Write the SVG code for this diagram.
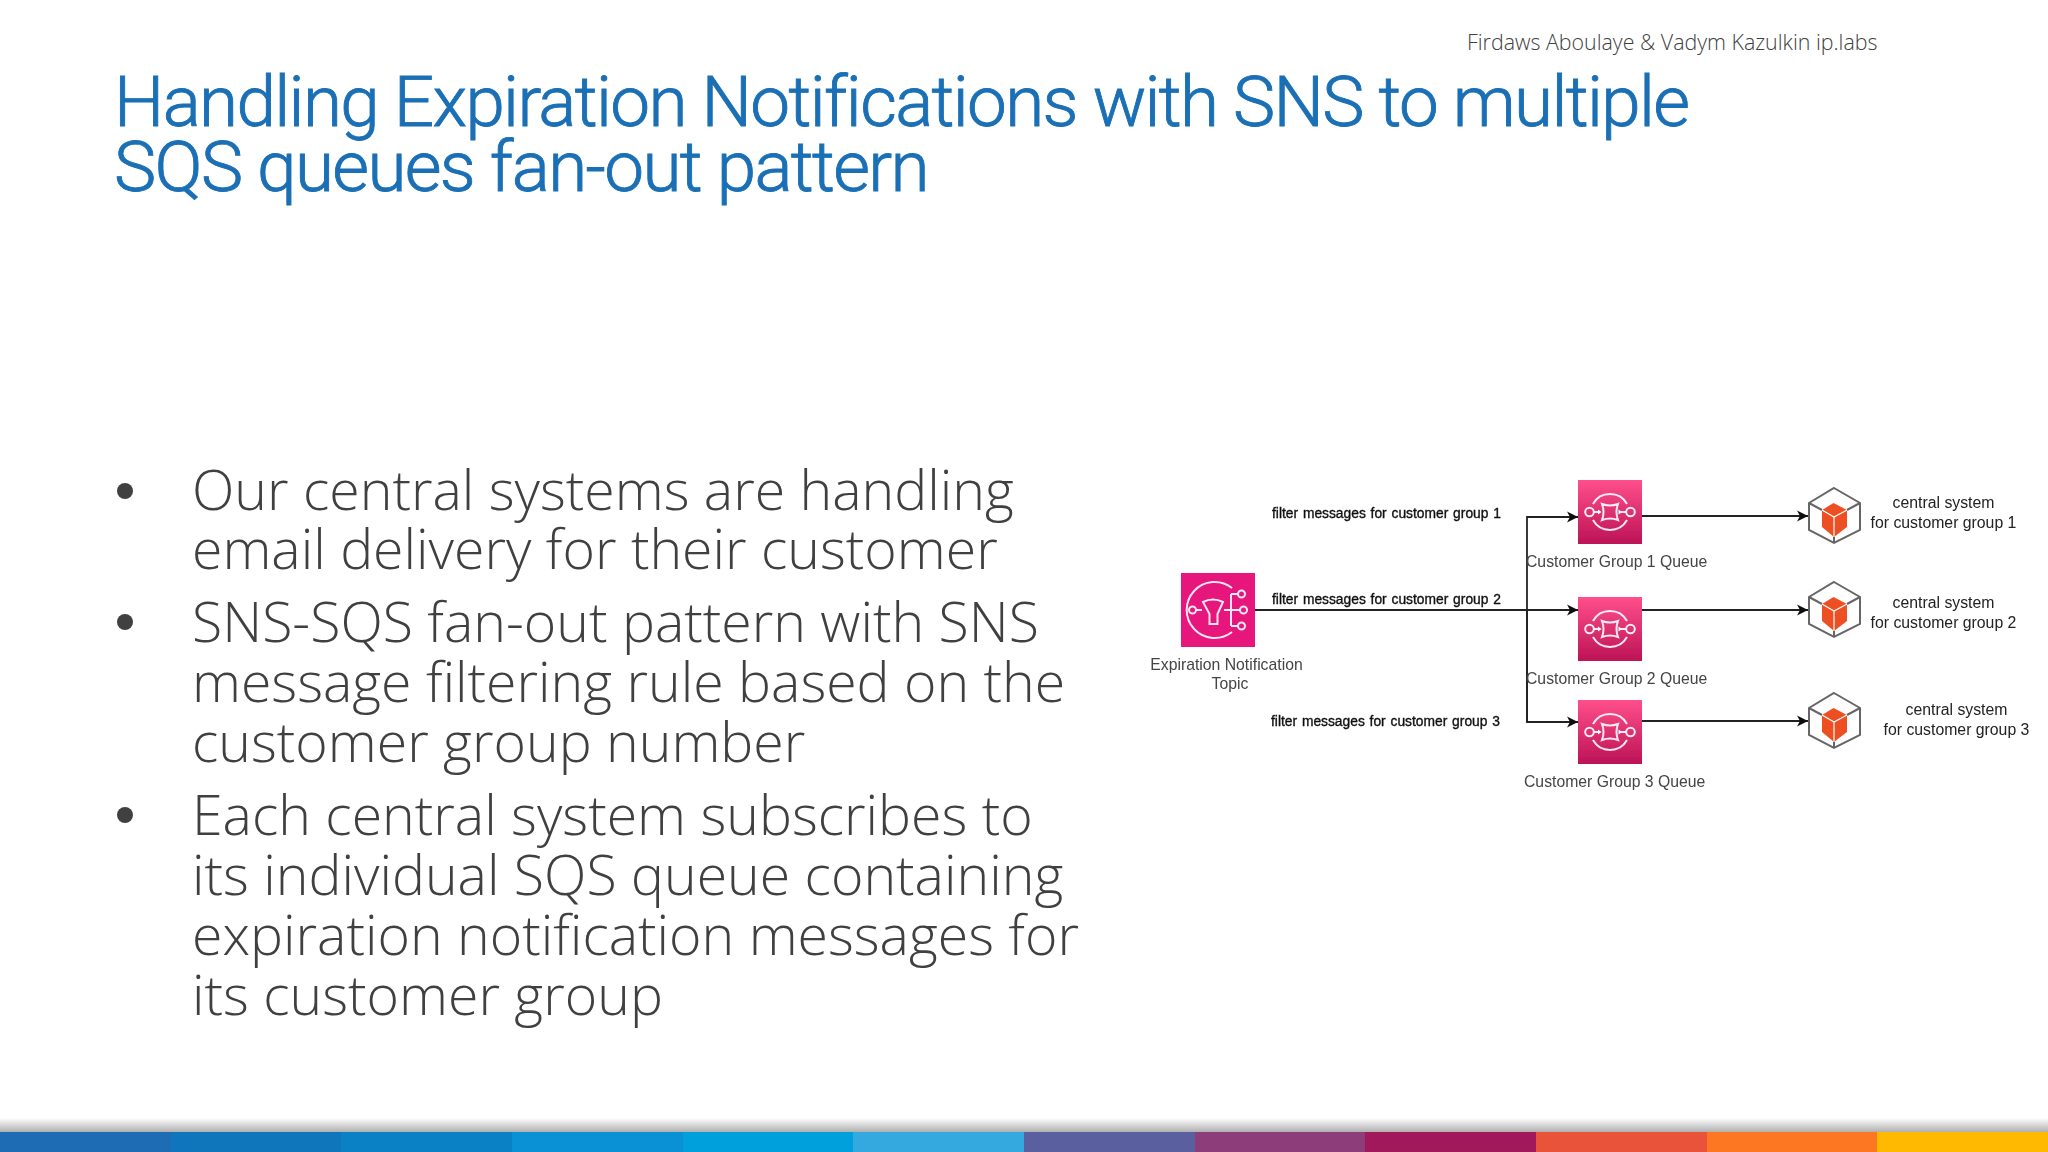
<svg xmlns="http://www.w3.org/2000/svg" width="2048" height="1152" viewBox="0 0 2048 1152">
<style>
.title{font-family:Roboto,"Liberation Sans",sans-serif;font-size:71px;font-weight:300;fill:#1a6fb5;stroke:#1a6fb5;stroke-width:.9px;letter-spacing:-1.64px}
.body{font-family:"Open Sans","Liberation Sans",sans-serif;font-weight:300;font-size:55.400px;fill:#404040}
.hdr{font-family:"Open Sans","Liberation Sans",sans-serif;font-weight:300;font-size:21.400px;fill:#404040}
.flt{font-family:"Liberation Sans",Arial,sans-serif;font-size:13.800px;word-spacing:1px;fill:#111;stroke:#111;stroke-width:.35px}
.lbl{font-family:"Liberation Sans",Arial,sans-serif;font-size:15.750px;fill:#444}
.sys{font-family:"Liberation Sans",Arial,sans-serif;font-size:15.800px;fill:#222}
.conn{fill:none;stroke:#222;stroke-width:1.800}
.ic{fill:none;stroke:#fff;stroke-width:2;opacity:.9}
.hx{fill:none;stroke:#666;stroke-width:2}
.soft{filter:url(#bl)}
</style>
<defs>
<filter id="bl" x="-5%" y="-5%" width="110%" height="110%"><feGaussianBlur stdDeviation="0.450"/></filter>
<linearGradient id="sq" x1="0" y1="0" x2="0" y2="1"><stop offset="0" stop-color="#ff4f8b"/><stop offset="1" stop-color="#bc1356"/></linearGradient>
<linearGradient id="sh" x1="0" y1="0" x2="0" y2="1"><stop offset="0" stop-color="#fff"/><stop offset="1" stop-color="#b0b0b0"/></linearGradient>
<marker id="ah" markerUnits="userSpaceOnUse" markerWidth="12" markerHeight="12" refX="11" refY="6" orient="auto"><path d="M0 .5L11 6L0 11.500L3 6Z" fill="#111"/></marker>
<g id="sqs">
<rect width="64" height="64" fill="url(#sq)"/>
<path class="ic" d="M15 24A19.500 19.500 0 0 1 49 24M15 40A19.500 19.500 0 0 0 49 40"/>
<circle class="ic" cx="11.500" cy="32" r="4.300"/><circle class="ic" cx="52.500" cy="32" r="4.300"/>
<path class="ic" d="M24 24Q32 27 40 24Q37 32 40 40Q32 37 24 40Q27 32 24 24Z"/>
<path class="ic" d="M16 32H21M43 32H48"/>
<path d="M20 29.500L23.500 32L20 34.500ZM40.500 29.500L44 32L40.500 34.500Z" fill="#fff"/>
</g>
<g id="cube">
<path class="hx" d="M26 0L52 15V42L26 55L1 42V15Z"/>
<path class="hx" d="M1 15L14 22M52 15L39 22M26 42V55"/>
<path d="M25.500 15L39 22V39L26 49L14 39V22Z" fill="#ed4f24"/>
<path d="M14 22L26 29L39 22M26 29V49" fill="none" stroke="#fff" stroke-width="1.200"/>
</g>
</defs>

<text class="hdr" x="1467" y="50">Firdaws Aboulaye &amp; Vadym Kazulkin ip.labs</text>
<text class="title" x="114" y="125.500">Handling Expiration Notifications with SNS to multiple</text>
<text class="title" x="114" y="190.500">SQS queues fan-out pattern</text>

<circle cx="125" cy="491" r="8" fill="#404040"/>
<circle cx="125" cy="622" r="8" fill="#404040"/>
<circle cx="125" cy="815" r="8" fill="#404040"/>
<text class="body" x="192" y="510">Our central systems are handling</text>
<text class="body" x="192" y="569">email delivery for their customer</text>
<text class="body" x="192" y="642">SNS-SQS fan-out pattern with SNS</text>
<text class="body" x="192" y="702">message filtering rule based on the</text>
<text class="body" x="192" y="762">customer group number</text>
<text class="body" x="192" y="835">Each central system subscribes to</text>
<text class="body" x="192" y="895">its individual SQS queue containing</text>
<text class="body" x="192" y="955">expiration notification messages for</text>
<text class="body" x="192" y="1015">its customer group</text>

<g id="connectors" class="soft">
<path class="conn" d="M1255 610H1578" marker-end="url(#ah)"/>
<path class="conn" d="M1527 722V517H1578" marker-end="url(#ah)"/>
<path class="conn" d="M1527 610V722H1578" marker-end="url(#ah)"/>
<path class="conn" d="M1642 516H1808" marker-end="url(#ah)"/>
<path class="conn" d="M1642 610H1808" marker-end="url(#ah)"/>
<path class="conn" d="M1642 721H1808" marker-end="url(#ah)"/>
</g>

<g id="sns-topic" class="soft">
<rect x="1181" y="573" width="74" height="74" fill="#e7157b"/>
<g transform="translate(1181 573)">
<path class="ic" d="M51 15A28 28 0 1 0 51 59"/>
<circle class="ic" cx="11.500" cy="37" r="3.500"/>
<path class="ic" d="M15 37H21M43 37H59M50 21V53M50 21H57M50 53H57"/>
<circle class="ic" cx="60.500" cy="21" r="3.500"/><circle class="ic" cx="62.500" cy="37" r="3.500"/><circle class="ic" cx="60.500" cy="53" r="3.500"/>
<path class="ic" d="M22 29Q32 24 42 29L36.500 41V51H28.500V41Z"/>
</g>
<text class="lbl" x="1226.500" y="670" text-anchor="middle">Expiration Notification</text>
<text class="lbl" x="1230" y="689" text-anchor="middle">Topic</text>
</g>

<g id="filter-labels" class="soft">
<text class="flt" x="1272" y="518">filter messages for customer group 1</text>
<text class="flt" x="1272" y="604">filter messages for customer group 2</text>
<text class="flt" x="1271" y="726">filter messages for customer group 3</text>
</g>

<g id="queue-1" class="soft"><use href="#sqs" x="1578" y="480"/><text class="lbl" x="1526" y="567">Customer Group 1 Queue</text></g>
<g id="queue-2" class="soft"><use href="#sqs" x="1578" y="597"/><text class="lbl" x="1526" y="684">Customer Group 2 Queue</text></g>
<g id="queue-3" class="soft"><use href="#sqs" x="1578" y="700"/><text class="lbl" x="1524" y="786.500">Customer Group 3 Queue</text></g>

<g id="system-1" class="soft"><use href="#cube" x="1808" y="488"/><text class="sys" x="1943.500" y="508" text-anchor="middle">central system</text><text class="sys" x="1943.500" y="528" text-anchor="middle">for customer group 1</text></g>
<g id="system-2" class="soft"><use href="#cube" x="1808" y="582"/><text class="sys" x="1943.500" y="608" text-anchor="middle">central system</text><text class="sys" x="1943.500" y="628" text-anchor="middle">for customer group 2</text></g>
<g id="system-3" class="soft"><use href="#cube" x="1808" y="693"/><text class="sys" x="1956.500" y="715" text-anchor="middle">central system</text><text class="sys" x="1956.500" y="735" text-anchor="middle">for customer group 3</text></g>

<rect x="0" y="1118" width="2048" height="14" fill="url(#sh)"/>
<g id="bar">
<rect x="0" y="1132" width="171" height="20" fill="#1e6cb3"/>
<rect x="171" y="1132" width="171" height="20" fill="#0f76bc"/>
<rect x="341" y="1132" width="171" height="20" fill="#0a80c5"/>
<rect x="512" y="1132" width="171" height="20" fill="#0a91d5"/>
<rect x="683" y="1132" width="171" height="20" fill="#00a0dc"/>
<rect x="853" y="1132" width="171" height="20" fill="#33a9e0"/>
<rect x="1024" y="1132" width="171" height="20" fill="#5a609f"/>
<rect x="1195" y="1132" width="171" height="20" fill="#8e3d7b"/>
<rect x="1365" y="1132" width="171" height="20" fill="#a2195b"/>
<rect x="1536" y="1132" width="171" height="20" fill="#e8533a"/>
<rect x="1707" y="1132" width="171" height="20" fill="#fd7622"/>
<rect x="1877" y="1132" width="171" height="20" fill="#ffb900"/>
</g>
</svg>
